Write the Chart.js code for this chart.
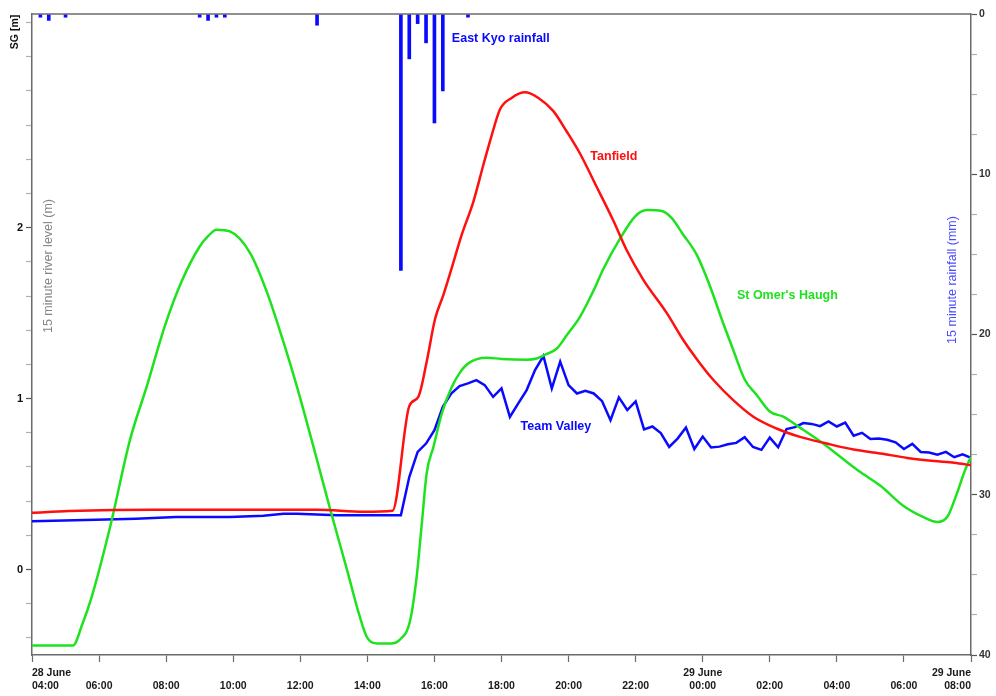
<!DOCTYPE html>
<html>
<head>
<meta charset="utf-8">
<title>River levels and rainfall, 28-29 June</title>
<script src="https://cdn.jsdelivr.net/npm/chart.js@4.4.1/dist/chart.umd.min.js"></script>
<style>
  html, body { margin: 0; padding: 0; background: #fff; }
  #wrap { width: 996px; height: 696px; }
</style>
</head>
<body>
<div id="wrap"><canvas id="chart" width="996" height="696"></canvas></div>
<script>
// All times are hours after 04:00 on 28 June

// Tanfield gauge, 15 minute level (m)
const tanfieldHours = [0, 1.1, 3.7, 6.0, 8.5, 9.9, 10.75, 11.25, 11.52, 11.77, 12.02, 12.27, 12.51, 12.81,
  13.16, 13.46, 13.71, 13.96, 14.3, 14.7, 15.1, 15.54, 15.94, 16.34, 16.84, 17.33, 17.73, 18.23, 18.93,
  19.42, 19.92, 20.32, 20.91, 21.51, 22.2, 22.9, 23.7, 24.5, 25.3, 26.1, 26.9, 27.5, 28.0];
const tanfieldLevel = [0.332, 0.342, 0.35, 0.35, 0.35, 0.338, 0.344, 0.956, 1.01, 1.217, 1.467, 1.608, 1.76, 1.956,
  2.151, 2.368, 2.542, 2.694, 2.759, 2.792, 2.759, 2.683, 2.564, 2.434, 2.238, 2.043, 1.869, 1.695, 1.5,
  1.343, 1.206, 1.109, 0.991, 0.894, 0.825, 0.776, 0.737, 0.702, 0.679, 0.653, 0.635, 0.625, 0.61];

// St Omer's Haugh gauge (tidal)
const stOmersHours = [0, 1.22, 1.5, 1.78, 2.33, 2.92, 3.42, 3.97, 4.46, 5.0, 5.25, 5.5, 5.9, 6.5, 7.0, 7.5,
  7.9, 8.5, 8.9, 9.4, 9.75, 10.0, 10.3, 10.7, 10.97, 11.27, 11.47, 11.62, 11.77, 11.97, 12.22, 12.51, 12.76,
  13.01, 13.56, 14.0, 14.75, 15.05, 15.35, 15.65, 15.94, 16.34, 16.74, 17.04, 17.53, 17.98, 18.33, 18.78,
  19.07, 19.42, 19.82, 20.22, 20.61, 20.91, 21.26, 21.61, 22.0, 22.4, 22.9, 23.5, 24.1, 24.7, 25.3, 26.0,
  26.6, 27.0, 27.3, 27.57, 27.82, 28.0];
const stOmersLevel = [-0.445, -0.445, -0.32, -0.16, 0.25, 0.757, 1.07, 1.43, 1.685, 1.89, 1.95, 1.988, 1.978, 1.853, 1.626, 1.33,
  1.07, 0.64, 0.346, -0.006, -0.26, -0.40, -0.432, -0.432, -0.41, -0.303, -0.043, 0.26, 0.565, 0.717, 0.913, 1.065, 1.152,
  1.206, 1.239, 1.232, 1.228, 1.235, 1.261, 1.293, 1.369, 1.478, 1.63, 1.76, 1.934, 2.065, 2.103, 2.097,
  2.057, 1.959, 1.842, 1.656, 1.441, 1.284, 1.109, 1.021, 0.925, 0.894, 0.83, 0.75, 0.66, 0.57, 0.49, 0.37,
  0.305, 0.278, 0.31, 0.44, 0.58, 0.66];

// Team Valley gauge
const teamValleyHours = [0, 1.9, 3.1, 4.3, 5.9, 6.9, 7.5, 7.9, 9.1, 11.0,
  11.25, 11.5, 11.75, 12.0, 12.25, 12.5, 12.75, 13.0, 13.25, 13.5, 13.75, 14.0, 14.25, 14.5, 14.75,
  15.0, 15.25, 15.5, 15.75, 16.0, 16.25, 16.5, 16.75, 17.0, 17.25, 17.5, 17.75, 18.0, 18.25, 18.5, 18.75,
  19.0, 19.25, 19.5, 19.75, 20.0, 20.25, 20.5, 20.75, 21.0, 21.25, 21.5, 21.75, 22.0, 22.25, 22.5, 22.75,
  23.0, 23.25, 23.5, 23.75, 24.0, 24.25, 24.5, 24.75, 25.0, 25.25, 25.5, 25.75, 26.0, 26.25, 26.5, 26.75,
  27.0, 27.25, 27.5, 27.75, 28.0];
const teamValleyLevel = [0.283, 0.291, 0.297, 0.307, 0.307, 0.315, 0.326, 0.326, 0.318, 0.317,
  0.541, 0.688, 0.737, 0.815, 0.952, 1.03, 1.073, 1.089, 1.108, 1.079, 1.01, 1.06, 0.893, 0.972, 1.05,
  1.167, 1.249, 1.06, 1.216, 1.079, 1.03, 1.046, 1.03, 0.985, 0.874, 1.007, 0.933, 0.984, 0.82, 0.837, 0.798,
  0.717, 0.766, 0.831, 0.705, 0.778, 0.714, 0.719, 0.733, 0.741, 0.774, 0.717, 0.70, 0.772, 0.715, 0.822, 0.833,
  0.857, 0.852, 0.839, 0.867, 0.837, 0.86, 0.783, 0.80, 0.764, 0.766, 0.759, 0.744, 0.705, 0.735, 0.688, 0.685,
  0.672, 0.688, 0.657, 0.674, 0.654];

// East Kyo raingauge, 15 minute totals (mm)
const rainHours = [0.25, 0.5, 1.0, 5.0, 5.25, 5.5, 5.75, 8.5, 11.0, 11.25, 11.5, 11.75, 12.0, 12.25, 13.0];
const rainMm = [0.2, 0.4, 0.2, 0.2, 0.4, 0.2, 0.2, 0.7, 16.0, 2.8, 0.6, 1.8, 6.8, 4.8, 0.2];

// axis ticks
const timeLabels = ['28 June|04:00', '06:00', '08:00', '10:00', '12:00', '14:00', '16:00', '18:00',
  '20:00', '22:00', '29 June|00:00', '02:00', '04:00', '06:00', '29 June|08:00'];
const levelTicks = [-0.4, -0.2, 0, 0.2, 0.4, 0.6, 0.8, 1, 1.2, 1.4, 1.6, 1.8, 2, 2.2, 2.4, 2.6, 2.8, 3, 3.2];
const levelLabels = [0, 1, 2];
const rainTicks = [0, 2.5, 5, 7.5, 10, 12.5, 15, 17.5, 20, 22.5, 25, 27.5, 30, 32.5, 35, 37.5, 40];
const rainLabels = [0, 10, 20, 30, 40];

const FONT = '"Liberation Sans", Arial, sans-serif';
Chart.defaults.font.family = FONT;

const pts = (hs, vs) => hs.map((h, i) => ({ x: h, y: vs[i] }));

const RED = '#ff0f0f', GREEN = '#1fe21f', BLUE = '#0a0aff';

const annotate = {
  id: 'annotate',
  afterDraw(chart) {
    const { ctx, chartArea: a, scales } = chart;
    const xs = scales.x, ys = scales.y;
    ctx.save();

    // frame across the top of the plot
    ctx.strokeStyle = '#6b6b6b';
    ctx.lineWidth = 1.5;
    ctx.beginPath();
    ctx.moveTo(a.left, a.top);
    ctx.lineTo(a.right, a.top);
    ctx.stroke();

    // series names, anchored in hours / metres
    const names = [
      ['East Kyo rainfall', BLUE, 12.52, 3.108],
      ['Tanfield', RED, 16.65, 2.416],
      ["St Omer's Haugh", GREEN, 21.02, 1.601],
      ['Team Valley', BLUE, 14.57, 0.839]
    ];
    ctx.font = 'bold 12.5px ' + FONT;
    ctx.textAlign = 'left';
    ctx.textBaseline = 'middle';
    for (const [txt, col, h, v] of names) {
      ctx.fillStyle = col;
      ctx.fillText(txt, xs.getPixelForValue(h), ys.getPixelForValue(v));
    }

    const vText = (txt, cx, cy, font, col) => {
      ctx.save();
      ctx.translate(cx, cy);
      ctx.rotate(-Math.PI / 2);
      ctx.font = font;
      ctx.fillStyle = col;
      ctx.textAlign = 'center';
      ctx.textBaseline = 'middle';
      ctx.fillText(txt, 0, 0);
      ctx.restore();
    };
    vText('SG [m]', 15, 32, 'bold 10.5px ' + FONT, '#111');
    vText('15 minute river level (m)', a.left + 17, 266, '12.5px ' + FONT, '#858585');
    vText('15 minute rainfall (mm)', a.right - 18, 280, '12.5px ' + FONT, '#4a4aff');

    ctx.restore();
  }
};

new Chart(document.getElementById('chart'), {
  type: 'line',
  data: {
    datasets: [
      {
        type: 'bar',
        label: 'East Kyo rainfall',
        data: pts(rainHours, rainMm),
        yAxisID: 'y2',
        backgroundColor: BLUE,
        barThickness: 3,
        grouped: false
      },
      {
        label: 'Tanfield',
        data: pts(tanfieldHours, tanfieldLevel),
        yAxisID: 'y',
        borderColor: RED,
        borderWidth: 2.5,
        pointRadius: 0,
        cubicInterpolationMode: 'monotone'
      },
      {
        label: "St Omer's Haugh",
        data: pts(stOmersHours, stOmersLevel),
        yAxisID: 'y',
        borderColor: GREEN,
        borderWidth: 2.5,
        pointRadius: 0,
        cubicInterpolationMode: 'monotone'
      },
      {
        label: 'Team Valley',
        data: pts(teamValleyHours, teamValleyLevel),
        yAxisID: 'y',
        borderColor: BLUE,
        borderWidth: 2.5,
        pointRadius: 0,
        tension: 0
      }
    ]
  },
  options: {
    responsive: false,
    animation: false,
    devicePixelRatio: 1,
    layout: { padding: { top: 14, left: 0, right: 0, bottom: 0 } },
    plugins: {
      legend: { display: false },
      tooltip: { enabled: false }
    },
    scales: {
      x: {
        type: 'linear',
        min: 0,
        max: 28,
        offset: false,
        grid: { offset: false, drawOnChartArea: false, tickLength: 7, tickColor: '#6b6b6b', tickWidth: 1.2 },
        border: { color: '#6b6b6b', width: 1.5 },
        ticks: {
          stepSize: 2,
          autoSkip: false,
          maxRotation: 0,
          align: 'inner',
          padding: 4,
          color: '#1a1a1a',
          font: { size: 10.5, weight: 'bold', lineHeight: 1.3 },
          callback: (v) => {
            const parts = (timeLabels[Math.round(v / 2)] || '').split('|');
            return parts.length > 1 ? parts : ['', parts[0]];
          }
        },
        afterFit: (s) => { s.height = 41; }
      },
      y: {
        type: 'linear',
        position: 'left',
        min: -0.5,
        max: 3.25,
        afterBuildTicks: (s) => { s.ticks = levelTicks.map(v => ({ value: v })); },
        grid: {
          drawOnChartArea: false,
          tickLength: 6,
          tickWidth: 1.2,
          tickColor: (c) => levelLabels.includes(c.tick && c.tick.value) ? '#555' : '#b0b0b0'
        },
        border: { color: '#6b6b6b', width: 1.5 },
        ticks: {
          padding: 3,
          color: '#111',
          font: { size: 11, weight: 'bold' },
          callback: (v) => levelLabels.includes(v) ? String(v) : ''
        },
        afterFit: (s) => { s.width = 32; }
      },
      y2: {
        type: 'linear',
        position: 'right',
        reverse: true,
        min: 0,
        max: 40,
        afterBuildTicks: (s) => { s.ticks = rainTicks.map(v => ({ value: v })); },
        grid: {
          drawOnChartArea: false,
          tickLength: 6,
          tickWidth: 1.2,
          tickColor: (c) => rainLabels.includes(c.tick && c.tick.value) ? '#555' : '#b0b0b0'
        },
        border: { color: '#6b6b6b', width: 1.5 },
        ticks: {
          padding: 2,
          color: '#333',
          font: { size: 10.5, weight: 'bold' },
          callback: (v) => rainLabels.includes(v) ? String(v) : ''
        },
        afterFit: (s) => { s.width = 25; }
      }
    }
  },
  plugins: [annotate]
});
</script>
</body>
</html>
